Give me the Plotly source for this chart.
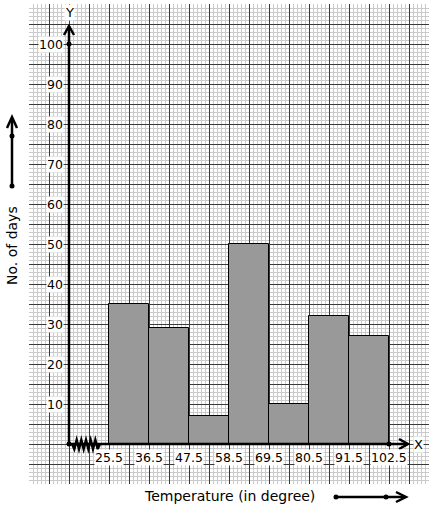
import plotly.graph_objects as go

# ---- data ----
class_edges = [25.5, 36.5, 47.5, 58.5, 69.5, 80.5, 91.5, 102.5]
days = [35, 29, 7, 50, 10, 32, 27]
x_tick_labels = ["25.5", "36.5", "47.5", "58.5", "69.5", "80.5", "91.5", "102.5"]
y_tick_values = [10, 20, 30, 40, 50, 60, 70, 80, 90, 100]
x_title = "Temperature (in degree)"
y_title = "No. of days"

W, H = 434, 510
L, R, T, B = 29, 429, 4, 484          # plot area in pixels
X0, X1 = 3.5, 113.5                   # x range (temperature units)
Y0, Y1 = -10, 110                     # y range
ORIGIN_X = 14.5                       # where the (broken) y axis sits

def px_x(p):  # pixel -> data x
    return X0 + (p - L) * (X1 - X0) / (R - L)

def px_y(p):  # pixel -> data y
    return Y1 - (p - T) * (Y1 - Y0) / (B - T)

def paper_x(p):
    return (p - L) / (R - L)

def paper_y(p):
    return (B - p) / (B - T)

mids = [(class_edges[i] + class_edges[i + 1]) / 2 for i in range(len(days))]
widths = [class_edges[i + 1] - class_edges[i] for i in range(len(days))]

fig = go.Figure()
fig.add_trace(go.Bar(
    x=mids, y=days, width=widths,
    marker=dict(color="#999999", line=dict(color="#000000", width=1)),
    showlegend=False, hoverinfo="skip",
))

FONT = "DejaVu Sans"
shapes = []
ann = []
AX = dict(color="#000000", width=2.5)

# y axis with arrow
ytip = px_y(26)
shapes.append(dict(type="line", x0=ORIGIN_X, x1=ORIGIN_X, y0=0, y1=ytip, line=AX))
shapes.append(dict(type="path", path=f"M {px_x(64)},{px_y(35)} L {ORIGIN_X},{ytip} L {px_x(74)},{px_y(35)}",
                   line=AX))
# x axis with arrow
xtip = px_x(408)
shapes.append(dict(type="line", x0=ORIGIN_X, x1=xtip, y0=0, y1=0, line=AX))
shapes.append(dict(type="path", path=f"M {px_x(399)},{px_y(439)} L {xtip},0 L {px_x(399)},{px_y(449)}",
                   line=AX))

# zigzag break on x axis
zz = []
n = 12
for i in range(n + 1):
    p = 72 + i * (100 - 72) / n
    off = 0 if i in (0, n) else (5 if i % 2 else -4)
    zz.append(f"{px_x(p)},{px_y(444 + off)}")
shapes.append(dict(type="path", path="M " + " L ".join(zz), line=dict(color="#000000", width=2.5)))

def dot(px, py):
    return dict(type="circle", xref="paper", yref="paper", xsizemode="pixel", ysizemode="pixel",
                xanchor=paper_x(px), yanchor=paper_y(py), x0=-2.5, x1=2.5, y0=-2.5, y1=2.5,
                fillcolor="#000000", line=dict(color="#000000", width=0))

shapes += [dot(69, 444), dot(69, 44), dot(389, 444)]

# left decorative arrow
shapes.append(dict(type="line", xref="paper", yref="paper", x0=paper_x(12), x1=paper_x(12),
                   y0=paper_y(186), y1=paper_y(118), line=AX))
shapes.append(dict(type="path", xref="paper", yref="paper",
                   path=f"M {paper_x(7)},{paper_y(128)} L {paper_x(12)},{paper_y(117)} L {paper_x(17)},{paper_y(128)}",
                   line=AX))
shapes += [dot(12, 186), dot(12, 136)]
# bottom decorative arrow
shapes.append(dict(type="line", xref="paper", yref="paper", x0=paper_x(336), x1=paper_x(405),
                   y0=paper_y(497), y1=paper_y(497), line=AX))
shapes.append(dict(type="path", xref="paper", yref="paper",
                   path=f"M {paper_x(396)},{paper_y(492)} L {paper_x(406)},{paper_y(497)} L {paper_x(396)},{paper_y(502)}",
                   line=AX))
shapes += [dot(336, 497), dot(386, 497)]

# tick labels
for v in y_tick_values:
    ann.append(dict(x=paper_x(64), xref="paper", y=v, yref="y", text=str(v), showarrow=False,
                    xanchor="right", yanchor="middle", bgcolor="#ffffff", borderpad=0,
                    font=dict(family=FONT, size=12.5, color="#000000")))
for e, lab in zip(class_edges, x_tick_labels):
    ann.append(dict(x=e, xref="x", y=px_y(457), yref="y", text=lab, showarrow=False,
                    xanchor="center", yanchor="middle", bgcolor="#ffffff", borderpad=0,
                    font=dict(family=FONT, size=12.5, color="#000000")))
ann.append(dict(x=ORIGIN_X, xref="x", y=px_y(12), yref="y", text="Y", showarrow=False,
                xanchor="center", yanchor="middle", bgcolor="#ffffff", borderpad=0,
                font=dict(family=FONT, size=13, color="#000000")))
ann.append(dict(x=px_x(418), xref="x", y=0, yref="y", text="X", showarrow=False,
                xanchor="center", yanchor="middle", bgcolor="#ffffff", borderpad=0,
                font=dict(family=FONT, size=13, color="#000000")))
ann.append(dict(x=paper_x(229), xref="paper", y=paper_y(496), yref="paper", text=x_title, showarrow=False,
                xanchor="center", yanchor="middle",
                font=dict(family=FONT, size=14, color="#000000")))
ann.append(dict(x=paper_x(12), xref="paper", y=paper_y(246), yref="paper", text=y_title, showarrow=False,
                xanchor="center", yanchor="middle", textangle=-90,
                font=dict(family=FONT, size=14, color="#000000")))

grid_axis = dict(showline=False, zeroline=False, showticklabels=False, ticks="",
                 showgrid=True, gridcolor="#3a3a3a", gridwidth=1, fixedrange=True)

fig.update_layout(
    width=W, height=H,
    margin=dict(l=L, r=W - R, t=T, b=H - B, pad=0),
    paper_bgcolor="#ffffff", plot_bgcolor="#ffffff",
    xaxis=dict(range=[X0, X1], tick0=X0, dtick=(X1 - X0) / 20,
               minor=dict(showgrid=True, dtick=(X1 - X0) / 100, tick0=X0, gridcolor="#cacaca", gridwidth=1),
               **grid_axis),
    yaxis=dict(range=[Y0, Y1], tick0=0, dtick=5,
               minor=dict(showgrid=True, dtick=1, tick0=0, gridcolor="#cacaca", gridwidth=1),
               **grid_axis),
    shapes=shapes, annotations=ann, bargap=0,
    font=dict(family=FONT),
)

fig.write_html("out.html", config={"displayModeBar": False},
               post_script="document.body.style.margin='0';document.body.style.overflow='hidden';")
